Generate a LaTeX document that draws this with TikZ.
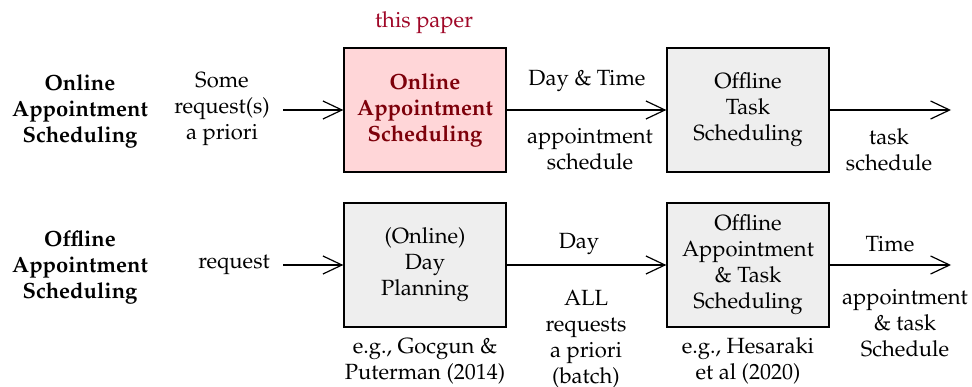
\documentclass[tikz,border=0pt]{standalone}
\usepackage[T1]{fontenc}
\usepackage{mathpazo}
\usetikzlibrary{arrows.meta}
\definecolor{paperred}{RGB}{160,8,40}
\definecolor{boxred}{RGB}{125,0,10}
\definecolor{pinkfill}{RGB}{255,214,216}
\definecolor{grayfill}{RGB}{238,238,238}
\begin{document}
\begin{tikzpicture}[x=1pt,y=1pt,
  every node/.style={font=\fontsize{22}{26}\selectfont, align=center, inner sep=0pt},
  procbox/.style={draw=black, line width=1.3pt, minimum width=162pt, minimum height=124pt, fill=grayfill},
  flow/.style={-{Straight Barb[length=19pt,width=18pt]}, line width=1.2pt}]
\useasboundingbox (0,0) rectangle (972,386);

% process boxes
\node[procbox, fill=pinkfill, text=boxred] (oas) at (425,276) {\bfseries Online\\\bfseries Appointment\\\bfseries Scheduling};
\node[procbox] (ots) at (748,276) {Offline\\Task\\Scheduling};
\node[procbox] (dp) at (425,121) {(Online)\\Day\\Planning};
\node[procbox] (oats) at (748,121) {Offline\\Appointment\\\& Task\\Scheduling};

% row labels
\node (lab1) at (80,275) {\bfseries Online\\\bfseries Appointment\\\bfseries Scheduling};
\node (lab2) at (80,119) {\bfseries Offline\\\bfseries Appointment\\\bfseries Scheduling};

% inputs
\node (in1) at (222,277) {Some\\request(s)\\a priori};
\node (in2) at (234,121) {request};
\coordinate (s1) at (283,276);
\coordinate (s2) at (283,121);
\coordinate (e1) at (951,276);
\coordinate (e2) at (951,121);

% annotation
\node[text=paperred] (tp) at (424,363) {this paper};

% arrows
\draw[flow] (s1) -- (oas.west);
\draw[flow] (oas.east) -- (ots.west);
\draw[flow] (ots.east) -- (e1);
\draw[flow] (s2) -- (dp.west);
\draw[flow] (dp.east) -- (oats.west);
\draw[flow] (oats.east) -- (e2);

% arrow labels
\node (l1) at (587,305) {Day \& Time};
\node (l2) at (590,237) {appointment\\schedule};
\node (l3) at (889,236) {task\\schedule};
\node (l4) at (579,142) {Day};
\node (l5) at (586,47) {ALL\\requests\\a priori\\(batch)};
\node (l6) at (890,142) {Time};
\node (l7) at (905,63) {appointment\\\& task\\Schedule};

% references
\node (r1) at (425,25) {e.g., Gocgun \&\\Puterman (2014)};
\node (r2) at (748,25) {e.g., Hesaraki\\et al (2020)};
\end{tikzpicture}
\end{document}
